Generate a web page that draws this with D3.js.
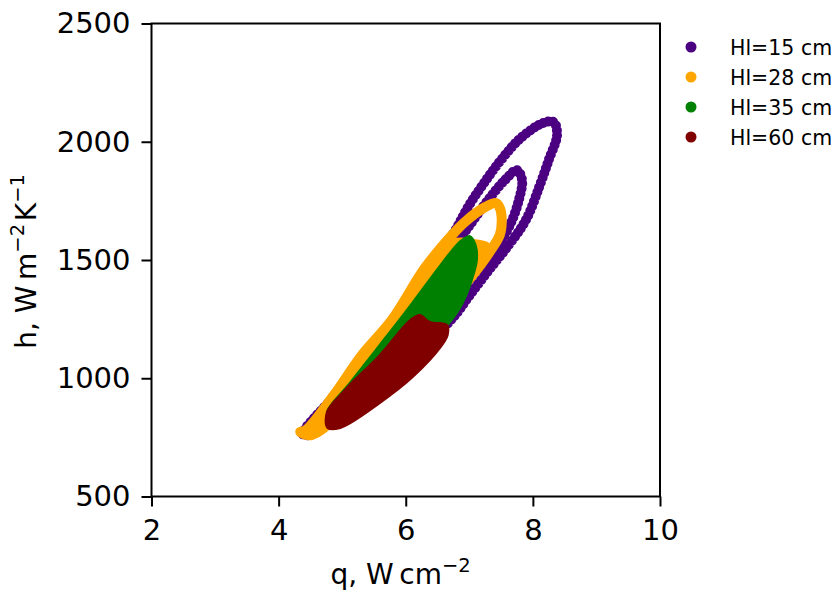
<!DOCTYPE html>
<html>
<head>
<meta charset="utf-8">
<script src="https://cdn.jsdelivr.net/npm/d3@7"></script>
<style>
  html, body { margin: 0; padding: 0; background: #fff; }
  svg { display: block; }
  text { font-family: "DejaVu Sans", sans-serif; fill: #000; }
</style>
</head>
<body>
<svg id="chart" width="834" height="590"></svg>
<script>
// ---------- data ----------
const categories = ["Hl=15 cm", "Hl=28 cm", "Hl=35 cm", "Hl=60 cm"];
const xTicks = [2, 4, 6, 8, 10];
const yTicks = [500, 1000, 1500, 2000, 2500];

// Hl=15 cm : outer loop
const hl15_loop1_q = [4.38, 4.89, 5.44, 5.91, 6.38, 6.80, 6.98, 7.23, 7.50, 7.81, 8.16, 8.33,
                      8.38, 8.25, 8.10, 7.89, 7.56, 7.31, 7.01, 6.74, 6.22, 5.59, 4.97, 4.49];
const hl15_loop1_h = [764, 929, 1098, 1267, 1449, 1635, 1724, 1825, 1923, 2016, 2079, 2083,
                      2028, 1923, 1809, 1669, 1542, 1458, 1352, 1255, 1119, 971, 845, 760];
// Hl=15 cm : inner loop
const hl15_loop2_q = [4.41, 4.65, 5.36, 6.00, 6.54, 7.01, 7.32, 7.56, 7.75,
                      7.83, 7.78, 7.64, 7.40, 7.10, 6.85, 6.62, 6.07, 5.44, 4.81];
const hl15_loop2_h = [768, 823, 1014, 1246, 1466, 1648, 1762, 1838, 1880,
                      1838, 1754, 1648, 1542, 1449, 1352, 1255, 1119, 950, 823];

// Hl=28 cm : outer loop
const hl28_loop_q = [4.34, 4.43, 4.87, 5.31, 5.78, 6.30, 6.73, 6.93, 7.25, 7.42,
                     7.48, 7.51, 7.48, 7.32, 7.14, 6.93, 6.73, 6.54, 5.91, 5.12, 4.52];
const hl28_loop_h = [773, 781, 929, 1098, 1246, 1466, 1606, 1661, 1724, 1741,
                     1720, 1669, 1606, 1534, 1466, 1394, 1310, 1238, 1077, 887, 760];
// Hl=28 cm : densely covered core
const hl28_core_q = [7.09, 7.32, 7.14, 6.93, 6.73, 6.54, 5.91, 5.12, 4.52, 4.34,
                     4.43, 4.87, 5.31, 5.78, 6.30, 6.70];
const hl28_core_h = [1584, 1563, 1466, 1394, 1310, 1238, 1077, 887, 760, 773,
                     781, 929, 1098, 1246, 1466, 1584];

// Hl=35 cm : densely covered region
const hl35_q = [4.76, 5.12, 5.59, 6.10, 6.51, 6.73, 6.88, 7.01, 7.10, 7.12, 7.04,
                6.88, 6.70, 6.22, 5.59, 4.97, 4.81];
const hl35_h = [857, 980, 1141, 1318, 1466, 1542, 1584, 1601, 1563, 1500, 1415,
                1310, 1238, 1098, 950, 831, 823];

// Hl=60 cm : densely covered region
const hl60_q = [4.76, 5.04, 5.59, 6.07, 6.22, 6.38, 6.65, 6.66, 6.54, 6.11, 5.59, 4.97, 4.77];
const hl60_h = [857, 950, 1098, 1246, 1267, 1238, 1225, 1183, 1128, 1005, 895, 790, 790];

// ---------- drawing ----------
const colors = ["#4b0082", "#ffa500", "#008000", "#800000"];
const svg = d3.select("#chart");
const x = d3.scaleLinear().domain([2, 10]).range([151.5, 660]);
const y = d3.scaleLinear().domain([500, 2500]).range([496.5, 23.5]);

const zip = (qs, hs) => qs.map((q, i) => [q, hs[i]]);
const loopLine = d3.line().x(d => x(d[0])).y(d => y(d[1])).curve(d3.curveCatmullRomClosed.alpha(0.5));

const plot = svg.append("g");

function drawLoop(qs, hs, color, dash) {
  plot.append("path")
    .attr("d", loopLine(zip(qs, hs)))
    .attr("fill", "none")
    .attr("stroke", color)
    .attr("stroke-width", 10)
    .attr("stroke-linecap", "round")
    .attr("stroke-linejoin", "round")
    .attr("stroke-dasharray", dash || null);
}
function drawBlob(qs, hs, color) {
  plot.append("path")
    .attr("d", loopLine(zip(qs, hs)))
    .attr("fill", color)
    .attr("stroke", color)
    .attr("stroke-width", 2)
    .attr("stroke-linejoin", "round");
}

drawLoop(hl15_loop1_q, hl15_loop1_h, colors[0], "0 5");
drawLoop(hl15_loop2_q, hl15_loop2_h, colors[0], "0 5");
drawBlob(hl28_core_q, hl28_core_h, colors[1]);
drawLoop(hl28_loop_q, hl28_loop_h, colors[1]);
drawBlob(hl35_q, hl35_h, colors[2]);
drawBlob(hl60_q, hl60_h, colors[3]);

// axes
const tickFont = 29;
const labelFont = 28;
const xAxis = svg.append("g").attr("transform", "translate(0,496.5)")
  .call(d3.axisBottom(x).tickValues(xTicks).tickFormat(d3.format("d")).tickSize(10).tickPadding(13));
const yAxis = svg.append("g").attr("transform", "translate(151.5,0)")
  .call(d3.axisLeft(y).tickValues(yTicks).tickFormat(d3.format("d")).tickSize(10).tickPadding(11));
[xAxis, yAxis].forEach(g => {
  g.select(".domain").remove();
  g.selectAll("line").attr("stroke", "#000").attr("stroke-width", 2);
  g.selectAll("text").attr("font-size", tickFont).attr("font-family", "DejaVu Sans, sans-serif").attr("fill", "#000");
});

// frame
svg.append("rect")
  .attr("x", x(2)).attr("y", y(2500))
  .attr("width", x(10) - x(2)).attr("height", y(500) - y(2500))
  .attr("fill", "none").attr("stroke", "#000").attr("stroke-width", 2);

// axis labels
function label(sel, parts) {
  parts.forEach(p => {
    if (p.sup) {
      sel.append("tspan").attr("dy", -12).attr("font-size", 19.5).text(p.t);
      sel.append("tspan").attr("dy", 12).attr("font-size", labelFont).text("\u200a");
    } else {
      sel.append("tspan").text(p.t);
    }
  });
}
const xl = svg.append("text").attr("x", 402).attr("y", 584).attr("text-anchor", "middle").attr("font-size", labelFont);
label(xl, [{t: "q, W\u2009cm"}, {t: "\u22122", sup: true}]);
const yl = svg.append("text").attr("transform", "translate(36,260) rotate(-90)").attr("text-anchor", "middle").attr("font-size", labelFont);
label(yl, [{t: "h, W\u2009m"}, {t: "\u22122", sup: true}, {t: "K"}, {t: "\u22121", sup: true}]);

// legend
const leg = svg.append("g");
categories.forEach((c, i) => {
  const gy = 47 + 30 * i;
  leg.append("circle").attr("cx", 691).attr("cy", gy).attr("r", 5.5).attr("fill", colors[i]);
  leg.append("text").attr("x", 730).attr("y", gy + 7.5).attr("font-size", 20.5).text(c);
});
</script>
</body>
</html>
